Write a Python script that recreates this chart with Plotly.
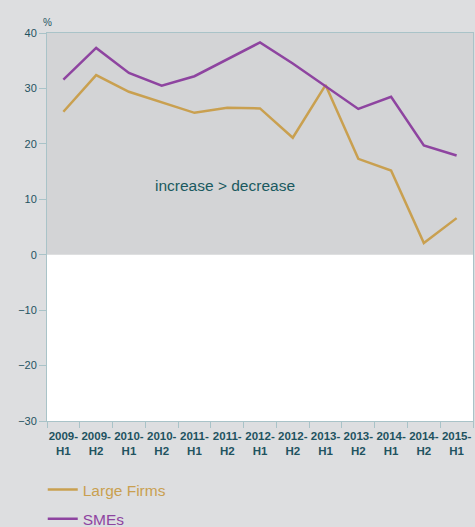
import plotly.graph_objects as go

categories = ["2009-<br>H1", "2009-<br>H2", "2010-<br>H1", "2010-<br>H2", "2011-<br>H1", "2011-<br>H2",
              "2012-<br>H1", "2012-<br>H2", "2013-<br>H1", "2013-<br>H2", "2014-<br>H1", "2014-<br>H2",
              "2015-<br>H1"]
large_firms = [25.8, 32.4, 29.4, 27.5, 25.6, 26.5, 26.4, 21.1, 30.6, 17.3, 15.2, 2.1, 6.6]
smes = [31.6, 37.3, 32.8, 30.5, 32.2, 35.3, 38.3, 34.5, 30.4, 26.3, 28.5, 19.7, 17.9]
y_ticks = [-30, -20, -10, 0, 10, 20, 30, 40]

GOLD = "#C9A050"
PURPLE = "#8E44A0"
TEAL = "#1F5360"
AXIS = "#A9C3C8"

fig = go.Figure()
fig.add_trace(go.Scatter(x=categories, y=large_firms, mode="lines",
                         name=f'<span style="color:{GOLD}">Large Firms</span>',
                         line=dict(color=GOLD, width=2.5), legendgroup="a"))
fig.add_trace(go.Scatter(x=categories, y=smes, mode="lines",
                         name=f'<span style="color:{PURPLE}">SMEs</span>',
                         line=dict(color=PURPLE, width=2.5), legendgroup="b"))

fig.add_shape(type="rect", xref="paper", yref="y", x0=0, x1=1, y0=0, y1=40,
              fillcolor="#D3D4D6", line=dict(width=0), layer="below")

fig.add_annotation(text="increase > decrease", xref="paper", yref="y", x=0.418, y=12.4,
                   showarrow=False, font=dict(size=15.5, color="#1A5A60", family="Liberation Sans, Arial"))
fig.add_annotation(text="%", xref="paper", yref="paper", x=0, y=1.046, xanchor="center",
                   showarrow=False, font=dict(size=10, color=TEAL, family="Liberation Sans, Arial"))

fig.update_layout(
    width=475, height=527,
    margin=dict(l=47, r=2, t=33, b=106, autoexpand=False),
    paper_bgcolor="#DDDEE0", plot_bgcolor="white",
    font=dict(family="Liberation Sans, Arial", color=TEAL),
    showlegend=True,
    legend=dict(x=-0.01, y=-0.134, xanchor="left", yanchor="top", orientation="v",
                traceorder="grouped", tracegroupgap=6,
                font=dict(size=15.5), itemwidth=30, bgcolor="rgba(0,0,0,0)"),
    xaxis=dict(type="category", showgrid=False, showline=True, linecolor=AXIS, linewidth=1,
               mirror=True, ticks="outside", tickson="boundaries", ticklen=6, tickcolor=AXIS,
               tickangle=0, automargin=False, ticklabelstandoff=4,
               tickfont=dict(size=11.5, color=TEAL, family="Liberation Sans, Arial"),
               range=[-0.5, 12.5]),
    yaxis=dict(range=[-30, 40], tickvals=y_ticks, showgrid=False, zeroline=False, showline=True,
               linecolor=AXIS, linewidth=1, mirror=True, ticks="outside", ticklen=7, tickcolor=AXIS,
               automargin=False,
               tickfont=dict(size=11, color=TEAL), tickprefix="<b>", ticksuffix="</b>"),
)
fig.update_xaxes(ticktext=[f"<b>{c}</b>" for c in categories], tickvals=categories)

fig.write_html("out.html")
